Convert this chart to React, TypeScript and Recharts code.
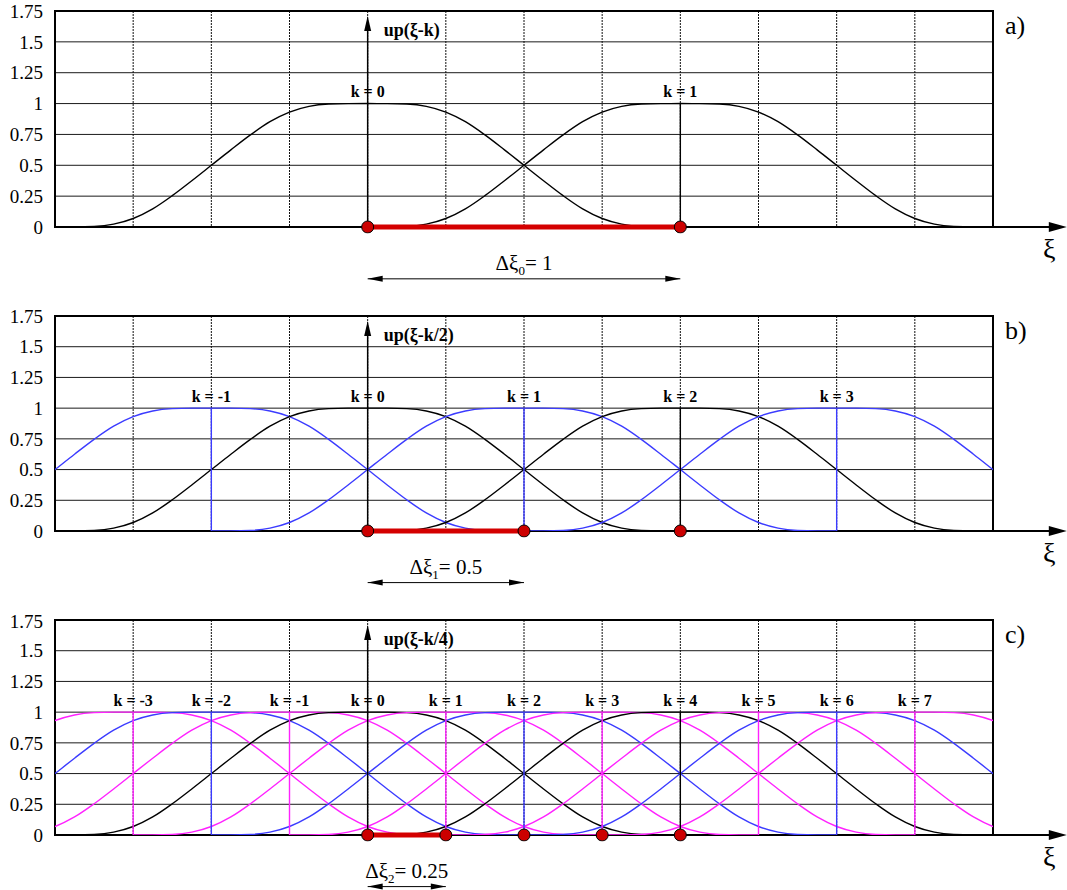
import {
  CartesianGrid,
  ComposedChart,
  Line,
  ReferenceArea,
  ReferenceDot,
  ReferenceLine,
  XAxis,
  YAxis,
} from "recharts";

const X_TICKS = [-1, -0.75, -0.5, -0.25, 0, 0.25, 0.5, 0.75, 1, 1.25, 1.5, 1.75, 2];
const Y_TICKS = [0, 0.25, 0.5, 0.75, 1, 1.25, 1.5, 1.75];

// up(ξ), distance from the centre -> value (symmetric)
const PROFILE_DIST = [0, 0.0625, 0.125, 0.1875, 0.25, 0.3125, 0.375, 0.4375, 0.5, 0.5625, 0.625, 0.6875, 0.75, 0.8125, 0.875, 0.9375, 1];
const PROFILE_VALUE = [1, 0.9998, 0.996, 0.977, 0.931, 0.853, 0.746, 0.625, 0.5, 0.375, 0.254, 0.147, 0.069, 0.023, 0.004, 0.0002, 0];

const PANEL_LABELS = ["a)", "b)", "c)"];
const AXIS_TITLES = ["up(ξ-k)", "up(ξ-k/2)", "up(ξ-k/4)"];
const K_A = [0, 1];
const K_B = [-1, 0, 1, 2, 3];
const K_C = [-3, -2, -1, 0, 1, 2, 3, 4, 5, 6, 7];
const STEPS = [1, 0.5, 0.25];
const NODES_A = [0, 1];
const NODES_B = [0, 0.5, 1];
const NODES_C = [0, 0.25, 0.5, 0.75, 1];
const DELTA_SUBS = ["0", "1", "2"];
const DELTA_VALUES = ["1", "0.5", "0.25"];

const BLACK = "#000000";
const BLUE = "#3b3bff";
const MAGENTA = "#ff22ff";
const RED = "#d40000";
const FONT = "Liberation Serif, serif";

const colourA = () => BLACK;
const colourB = (k: number) => (Math.abs(k) % 2 === 1 ? BLUE : BLACK);
const colourC = (k: number) => {
  const m = ((k % 4) + 4) % 4;
  if (m === 1 || m === 3) return MAGENTA;
  return m === 2 ? BLUE : BLACK;
};

function curve(center: number) {
  const pts: { x: number; y: number }[] = [];
  for (let i = PROFILE_DIST.length - 1; i > 0; i--) {
    pts.push({ x: center - PROFILE_DIST[i], y: PROFILE_VALUE[i] });
  }
  for (let i = 0; i < PROFILE_DIST.length; i++) {
    pts.push({ x: center + PROFILE_DIST[i], y: PROFILE_VALUE[i] });
  }
  return pts;
}

const arrowUp = (p: any) => (
  <polygon points={`${p.cx},${p.cy} ${p.cx - 3.5},${p.cy + 15} ${p.cx + 3.5},${p.cy + 15}`} fill="#000" />
);
const arrowLeft = (p: any) => (
  <polygon points={`${p.cx},${p.cy} ${p.cx + 15},${p.cy - 3} ${p.cx + 15},${p.cy + 3}`} fill="#000" />
);
const arrowRight = (p: any) => (
  <polygon points={`${p.cx},${p.cy} ${p.cx - 15},${p.cy - 3} ${p.cx - 15},${p.cy + 3}`} fill="#000" />
);
const bigArrowRight = (p: any) => (
  <polygon points={`${p.cx},${p.cy} ${p.cx - 18},${p.cy - 5} ${p.cx - 18},${p.cy + 5}`} fill="#000" />
);

interface PanelProps {
  idx: number;
  ks: number[];
  nodes: number[];
  colourOf: (k: number) => string;
  height: number;
  marginTop: number;
  marginBottom: number;
}

function Panel({ idx, ks, nodes, colourOf, height, marginTop, marginBottom }: PanelProps) {
  const step = STEPS[idx];
  return (
    <ComposedChart
      width={1067}
      height={height}
      margin={{ top: marginTop, right: 74, bottom: marginBottom, left: 0 }}
      style={{ fontFamily: FONT }}
    >
      <CartesianGrid vertical={false} stroke="#1a1a1a" strokeWidth={1} />
      <CartesianGrid horizontal={false} stroke="#111" strokeWidth={1} strokeDasharray="2 1" />
      <XAxis
        type="number"
        dataKey="x"
        domain={[-1, 2]}
        ticks={X_TICKS}
        allowDataOverflow
        axisLine={false}
        tickLine={false}
        tickSize={0}
        tickMargin={10}
        height={0}
        tick={{ fontSize: 19, fill: "#000", fontFamily: FONT }}
      />
      <YAxis
        type="number"
        dataKey="y"
        domain={[0, 1.75]}
        ticks={Y_TICKS}
        allowDataOverflow
        axisLine={false}
        tickLine={false}
        tickSize={0}
        tickMargin={12}
        width={55}
        tick={{ fontSize: 19, fill: "#000", fontFamily: FONT }}
      />
      {ks.map((k) => (
        <Line
          key={`c${k}`}
          data={curve(k * step)}
          dataKey="y"
          type="monotone"
          stroke={colourOf(k)}
          strokeWidth={1.4}
          dot={false}
          isAnimationActive={false}
        />
      ))}
      {ks
        .filter((k) => k !== 0)
        .map((k) => (
          <Line
            key={`v${k}`}
            data={[
              { x: k * step, y: 0 },
              { x: k * step, y: 1 },
            ]}
            dataKey="y"
            type="linear"
            stroke={colourOf(k)}
            strokeWidth={1.4}
            dot={false}
            isAnimationActive={false}
          />
        ))}
      {/* first interval, drawn under the axis line */}
      <ReferenceLine segment={[{ x: 0, y: 0 }, { x: step, y: 0 }]} stroke={RED} strokeWidth={5} ifOverflow="visible" />
      <ReferenceArea x1={-1} x2={2} y1={0} y2={1.75} fill="none" stroke="#000" strokeWidth={2} ifOverflow="visible" />
      {/* nodes */}
      <Line
        data={nodes.map((n) => ({ x: n, y: 0 }))}
        dataKey="y"
        stroke="none"
        dot={{ r: 6, fill: "#cc0000", stroke: "#000", strokeWidth: 1, clipDot: false }}
        isAnimationActive={false}
      />
      {/* axis arrows */}
      <ReferenceLine segment={[{ x: 0, y: 0 }, { x: 0, y: 1.65 }]} stroke="#000" strokeWidth={1.5} ifOverflow="visible" />
      <ReferenceDot x={0} y={1.71} ifOverflow="visible" shape={arrowUp} />
      <ReferenceLine segment={[{ x: 2, y: 0 }, { x: 2.2, y: 0 }]} stroke="#000" strokeWidth={2} ifOverflow="visible" />
      <ReferenceDot x={2.236} y={0} ifOverflow="visible" shape={bigArrowRight} />
      <ReferenceDot
        x={2.18}
        y={0}
        ifOverflow="visible"
        shape={(p: any) => (
          <text x={p.cx} y={p.cy + 31} textAnchor="middle" fontSize={28} fontFamily={FONT}>
            ξ
          </text>
        )}
      />
      <ReferenceDot
        x={0}
        y={1.55}
        ifOverflow="visible"
        shape={(p: any) => (
          <text x={p.cx + 16} y={p.cy} fontSize={18} fontWeight="bold" fontFamily={FONT}>
            {AXIS_TITLES[idx]}
          </text>
        )}
      />
      <ReferenceDot
        x={2}
        y={1.64}
        ifOverflow="visible"
        shape={(p: any) => (
          <text x={p.cx + 12} y={p.cy + 9} fontSize={26} fontFamily={FONT}>
            {PANEL_LABELS[idx]}
          </text>
        )}
      />
      {ks.map((k) => (
        <ReferenceDot
          key={`k${k}`}
          x={k * step}
          y={1.05}
          ifOverflow="visible"
          shape={(p: any) => (
            <text x={p.cx} y={p.cy} textAnchor="middle" fontSize={16} fontWeight="bold" fontFamily={FONT}>
              {`k = ${k}`}
            </text>
          )}
        />
      ))}
      {/* Δξ dimension arrow */}
      <ReferenceLine segment={[{ x: 0, y: -0.42 }, { x: step, y: -0.42 }]} stroke="#000" strokeWidth={1} ifOverflow="visible" />
      <ReferenceDot x={0} y={-0.42} ifOverflow="visible" shape={arrowLeft} />
      <ReferenceDot x={step} y={-0.42} ifOverflow="visible" shape={arrowRight} />
      <ReferenceDot
        x={step / 2}
        y={-0.35}
        ifOverflow="visible"
        shape={(p: any) => (
          <text x={p.cx} y={p.cy} textAnchor="middle" fontSize={21} fontFamily={FONT}>
            <tspan>Δξ</tspan>
            <tspan fontSize={13} dy={5}>
              {DELTA_SUBS[idx]}
            </tspan>
            <tspan dy={-5}>{`= ${DELTA_VALUES[idx]}`}</tspan>
          </text>
        )}
      />
    </ComposedChart>
  );
}

export default function App() {
  return (
    <div
      style={{
        position: "absolute",
        left: 0,
        top: 0,
        width: 1067,
        height: 890,
        background: "#fff",
        fontFamily: FONT,
      }}
    >
      <Panel idx={0} ks={K_A} nodes={NODES_A} colourOf={colourA} height={305} marginTop={11} marginBottom={78} />
      <Panel idx={1} ks={K_B} nodes={NODES_B} colourOf={colourB} height={305} marginTop={11} marginBottom={79} />
      <Panel idx={2} ks={K_C} nodes={NODES_C} colourOf={colourC} height={280} marginTop={10} marginBottom={55} />
    </div>
  );
}
